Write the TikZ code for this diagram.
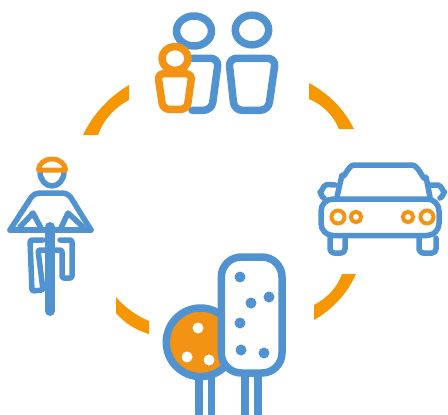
\documentclass[tikz,border=0pt]{standalone}
\usepackage{tikz}

\definecolor{iconblue}{HTML}{5093D0}
\definecolor{iconorange}{HTML}{F39313}
\definecolor{ringorange}{HTML}{F49700}

\tikzset{
  blueline/.style={draw=iconblue,line width=7.5pt,line join=round,line cap=round},
  thinblue/.style={draw=iconblue,line width=5.5pt,line join=round,line cap=round},
  orangeline/.style={draw=iconorange,line width=7.5pt,line join=round,line cap=round},
  ringarc/.style={fill=ringorange},
  lamp/.style={draw=iconorange,line width=4pt},
  bluedot/.style={fill=iconblue},
  whitedot/.style={fill=white}
}

\begin{document}
\begin{tikzpicture}[x=1pt,y=-1pt]

  \useasboundingbox (0,0) rectangle (448,415);

  % ring
  \fill[ringarc] (83,135) .. controls (93,114) and (109,97) .. (129,85) -- (129,100)
    .. controls (114,108) and (104,119) .. (98,135) -- cycle;
  \fill[ringarc] (309,83) .. controls (329,94) and (344,109) .. (354,129) -- (339,129)
    .. controls (333,115) and (323,105) .. (309,99) -- cycle;
  \fill[ringarc] (356,274) .. controls (347,294) and (333,309) .. (314,320) -- (314,305)
    .. controls (327,298) and (337,288) .. (342,274) -- cycle;
  \fill[ringarc] (116,297) .. controls (125,307.5) and (136,315.5) .. (149,321) -- (149,334)
    .. controls (135.5,330) and (124.5,323) .. (116,313) -- cycle;

  % family
  \begin{scope}[blueline]
    \draw (194,31) ellipse (17.5 and 15);
    \draw (252,30) ellipse (16.7 and 14.8);
    \draw[rounded corners=8pt] (192,58.3) -- (218.7,58.3) -- (211.7,110.3) -- (192,110.3);
    \draw[rounded corners=8pt] (228.7,58.3) -- (275.7,58.3) -- (268.3,110.3) -- (234.3,110.3) -- cycle;
  \end{scope}
  \begin{scope}[orangeline]
    \draw (175,58.5) ellipse (13 and 12);
    \draw[fill=white,rounded corners=6pt] (157.7,73.7) -- (192,73.7) -- (187,109.3) -- (163,109.3) -- cycle;
  \end{scope}

  % car
  \begin{scope}[thinblue]
    \draw (337,197) -- (342,175) to[out=-75,in=180] (354,165) -- (412,165)
      to[out=0,in=-105] (426,177) -- (430,197);
    \draw[rounded corners=12pt] (321,199) rectangle (439,235.5);
    \draw (335,185) -- (327,184.5) to[out=180,in=-90] (320,192) to[out=90,in=180] (324,198);
    \draw (431,185) -- (438,185) to[out=0,in=-90] (444.5,192) to[out=90,in=0] (440,198);
    \draw[rounded corners=4pt] (330,238) -- (330,253) -- (345,253) -- (345,238);
    \draw[rounded corners=4pt] (419,238) -- (419,253) -- (436,253) -- (436,238);
  \end{scope}
  \draw[lamp] (338,217) circle (6.5);
  \draw[lamp] (356,217) circle (5.2);
  \draw[lamp] (408,217) circle (5.2);
  \draw[lamp] (427,217) circle (6.5);

  % cyclist
  \begin{scope}[thinblue]
    \draw (40,172) arc (180:0:12 and 14);
    \draw[rounded corners=5pt] (10,230) -- (34,193) -- (68,193) -- (91,230);
    \draw (10,230) -- (91,230);
    \draw (20,227) -- (33,213) -- (42,230);
    \draw (83,227) -- (68,213) -- (60,230);
    \draw[rounded corners=2pt] (43,240) -- (30,240) -- (32,291) -- (43,290) -- (38,250) -- (50,250);
    \draw[rounded corners=2pt] (60,240) -- (72,240) -- (72,278) -- (62,278) -- (62,250) -- (50,250);
    \draw[line width=10pt] (50,227) -- (50,311);
  \end{scope}
  \draw[draw=iconorange,fill=white,line width=5pt,line join=round] (38.5,170) -- (65.5,170) arc (0:-180:13.5 and 11) -- cycle;

  % trees
  \begin{scope}[blueline]
    \draw (199,375) -- (199,414);
    \draw (211.7,375) -- (211.7,414);
    \draw (245,375) -- (245,414);
    \draw (258,375) -- (258,414);
    \draw[fill=iconorange] (200.6,342.3) circle (34.3);
    \draw[fill=white,rounded corners=20pt] (221.3,257) rectangle (282,373);
  \end{scope}
  \fill[bluedot] (240,277) circle (5.5);
  \fill[bluedot] (251,303) circle (5.5);
  \fill[bluedot] (269,297) circle (5.5);
  \fill[bluedot] (240,323) circle (5.5);
  \fill[bluedot] (241,350) circle (5.5);
  \fill[bluedot] (264,353) circle (5.5);
  \fill[whitedot] (198,328) circle (5.5);
  \fill[whitedot] (187,357) circle (5.5);
  \fill[whitedot] (209,360) circle (5.5);

\end{tikzpicture}
\end{document}
